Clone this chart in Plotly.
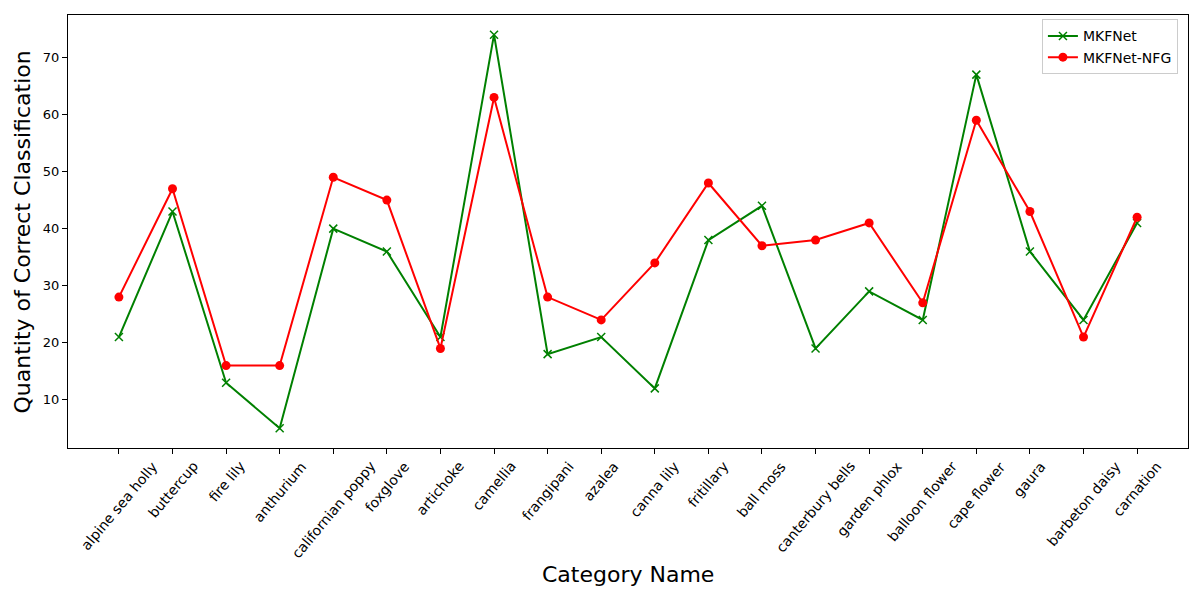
import plotly.graph_objects as go

categories = ["alpine sea holly", "buttercup", "fire lily", "anthurium", "californian poppy",
              "foxglove", "artichoke", "camellia", "frangipani", "azalea", "canna lily",
              "fritillary", "ball moss", "canterbury bells", "garden phlox", "balloon flower",
              "cape flower", "gaura", "barbeton daisy", "carnation"]
mkfnet = [21, 43, 13, 5, 40, 36, 21, 74, 18, 21, 12, 38, 44, 19, 29, 24, 67, 36, 24, 41]
mkfnet_nfg = [28, 47, 16, 16, 49, 45, 19, 63, 28, 24, 34, 48, 37, 38, 41, 27, 59, 43, 21, 42]

x_title = "Category Name"
y_title = "Quantity of Correct Classification"

idx = list(range(len(categories)))
font = "DejaVu Sans"

fig = go.Figure()
fig.add_trace(go.Scatter(
    x=idx, y=mkfnet, mode="lines+markers", name="MKFNet",
    line=dict(color="green", width=2),
    marker=dict(symbol="x-thin-open", size=8, color="green", line=dict(color="green", width=1.5)),
))
fig.add_trace(go.Scatter(
    x=idx, y=mkfnet_nfg, mode="lines+markers", name="MKFNet-NFG",
    line=dict(color="red", width=2),
    marker=dict(symbol="circle", size=9, color="red"),
))

# rotated category labels, centred on their ticks (matplotlib-style)
tick_annotations = [
    dict(text=name, xref="x", yref="paper", x=i, y=0, yshift=-9,
         xanchor="center", yanchor="top", textangle=-50, showarrow=False,
         borderpad=0, font=dict(family=font, size=14, color="black"))
    for i, name in zip(idx, categories)
]

fig.update_layout(
    width=1200, height=600,
    margin=dict(l=68, r=12, t=15, b=152, autoexpand=False),
    paper_bgcolor="white", plot_bgcolor="white",
    font=dict(family=font, size=13, color="black"),
    showlegend=True,
    legend=dict(x=0.991, y=0.99, xanchor="right", yanchor="top",
                bgcolor="rgba(255,255,255,0.8)", bordercolor="#cccccc", borderwidth=1,
                font=dict(family=font, size=14)),
    annotations=tick_annotations + [
        dict(text=x_title, xref="paper", yref="paper", x=0.5, y=-0.291,
             xanchor="center", yanchor="middle", showarrow=False,
             font=dict(family=font, size=22, color="black")),
        dict(text=y_title, xref="paper", yref="paper", x=-0.0402, y=0.5,
             xanchor="center", yanchor="middle", textangle=-90, showarrow=False,
             font=dict(family=font, size=22, color="black")),
    ],
)
fig.update_xaxes(
    tickmode="array", tickvals=idx, showticklabels=False,
    range=[-0.95, 19.95], showgrid=False, zeroline=False, automargin=False,
    showline=True, linecolor="black", linewidth=1, mirror=True,
    ticks="outside", ticklen=5, tickcolor="black",
)
fig.update_yaxes(
    range=[1.55, 77.45], tickmode="array", tickvals=[10, 20, 30, 40, 50, 60, 70],
    showgrid=False, zeroline=False, automargin=False,
    showline=True, linecolor="black", linewidth=1, mirror=True,
    ticks="outside", ticklen=5, tickcolor="black",
    tickfont=dict(family=font, size=13),
)

fig.write_html("out.html", config={"displayModeBar": False},
               post_script="document.body.style.margin='0';")
